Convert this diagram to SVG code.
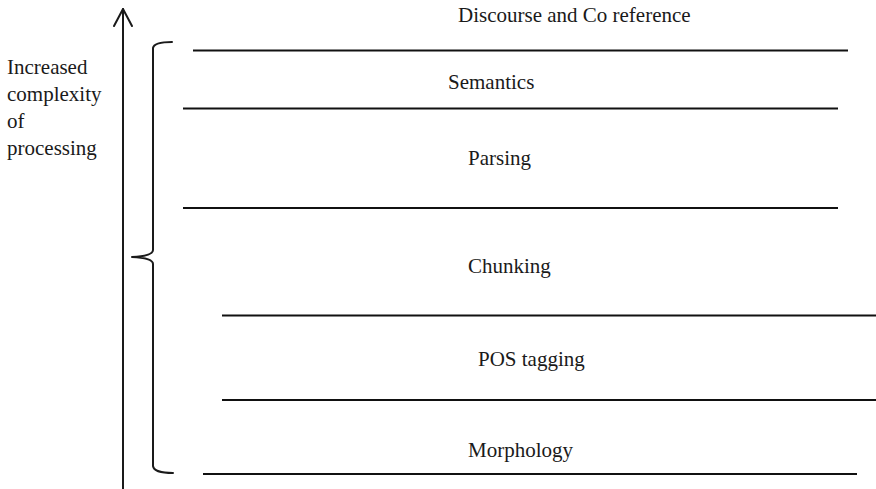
<svg xmlns="http://www.w3.org/2000/svg" width="876" height="489" viewBox="0 0 876 489">
  <style>
    text { font-family: "Liberation Serif", "Times New Roman", serif; font-size: 21px; fill: #1a1a1a; }
    .rule { stroke: #111; stroke-width: 2; fill: none; }
    .stroke { stroke: #1a1a1a; stroke-width: 2; fill: none; stroke-linecap: round; stroke-linejoin: round; }
  </style>
  <rect width="876" height="489" fill="#ffffff"/>

  <!-- axis: increasing processing complexity -->
  <g id="axis">
    <line class="stroke" x1="123" y1="489" x2="123" y2="9"/>
    <polyline class="stroke" points="114,26 123,9 132,26"/>
    <text x="7" y="74">Increased</text>
    <text x="7" y="101">complexity</text>
    <text x="7" y="128">of</text>
    <text x="7" y="155">processing</text>
  </g>

  <!-- curly brace spanning all levels -->
  <g id="brace">
    <path class="stroke" stroke-width="1.8" d="M172,42 Q154,42 153,48 L153,250 Q153,256 132,257 Q153,258 153,264 L153,466 Q154,473 173,473"/>
  </g>

  <!-- layer separators -->
  <g id="connectors">
    <line class="rule" x1="193" y1="50.5" x2="848" y2="50.5"/>
    <line class="rule" x1="183" y1="108.5" x2="838" y2="108.5"/>
    <line class="rule" x1="183" y1="208" x2="838" y2="208"/>
    <line class="rule" x1="222" y1="315.5" x2="876" y2="315.5"/>
    <line class="rule" x1="222" y1="400" x2="876" y2="400"/>
    <line class="rule" x1="203" y1="474" x2="857" y2="474" stroke="#555"/>
  </g>

  <!-- processing levels -->
  <g id="discourse"><text x="458" y="22">Discourse and Co reference</text></g>
  <g id="semantics"><text x="448" y="89">Semantics</text></g>
  <g id="parsing"><text x="468" y="165">Parsing</text></g>
  <g id="chunking"><text x="468" y="273">Chunking</text></g>
  <g id="pos-tagging"><text x="478" y="366">POS tagging</text></g>
  <g id="morphology"><text x="468" y="457">Morphology</text></g>
</svg>
